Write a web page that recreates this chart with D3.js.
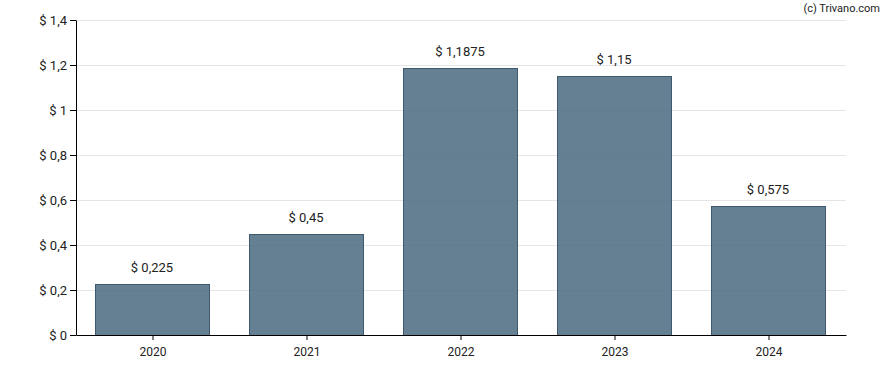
<!DOCTYPE html>
<meta charset="utf-8">
<style>
    body { margin: 0; background: #fff; }
    text { font-family: Roboto, "Liberation Sans", sans-serif; fill: #222; }
    .grid line { stroke: #e6e6e6; stroke-width: 1; }
    .axis path, .axis line { stroke: #000; }
</style>
<svg width="888" height="370"></svg>
<script src="https://d3js.org/d3.v7.min.js"></script>
<script>
    // data
    const years = ["2020", "2021", "2022", "2023", "2024"];
    const dividends = [0.225, 0.45, 1.1875, 1.15, 0.575];
    const yTicks = [0, 0.2, 0.4, 0.6, 0.8, 1, 1.2, 1.4];

    let svg = d3.select("svg");
    const margin = {top: 20, right: 42, bottom: 35, left: 76};
    const width = 888 - margin.left - margin.right,
        height = 370 - margin.top - margin.bottom;

    const fmt = v => "$ " + String(v).replace(".", ",");

    let x = d3.scaleBand().domain(years).range([0, width]).paddingInner(0.26).paddingOuter(0.13);
    let y = d3.scaleLinear().domain([0, 1.4]).range([height, 0]);

    let g = svg.append("g").attr("transform", "translate(" + margin.left + "," + margin.top + ")");

    // gridlines
    g.append("g").attr("class", "grid")
        .selectAll("line").data(yTicks.slice(1)).enter().append("line")
        .attr("x1", 0).attr("x2", width)
        .attr("y1", d => Math.round(y(d)) + 0.5).attr("y2", d => Math.round(y(d)) + 0.5);

    // bars (semi-transparent, gridlines show through a little)
    g.selectAll("rect.bar").data(years).enter().append("rect")
        .attr("class", "bar")
        .attr("x", d => Math.floor(x(d)) - 0.5)
        .attr("y", (d, i) => Math.round(y(dividends[i])) + 0.5)
        .attr("width", Math.round(x.bandwidth()))
        .attr("height", (d, i) => Math.round(height - y(dividends[i])))
        .attr("fill", "#4a6a80")
        .attr("fill-opacity", 0.85)
        .attr("stroke", "#3f5a6e")
        .attr("stroke-width", 1);

    // value labels
    g.selectAll("text.lbl").data(years).enter().append("text")
        .attr("class", "lbl")
        .attr("x", d => x(d) + x.bandwidth() / 2 - 1)
        .attr("y", (d, i) => y(dividends[i]) - 12)
        .attr("text-anchor", "middle")
        .style("font-size", "13px")
        .text((d, i) => fmt(dividends[i]));

    // axes
    let yAxis = g.append("g").attr("class", "axis")
        .call(d3.axisLeft(y).tickValues(yTicks).tickSize(6).tickSizeOuter(0).tickFormat(fmt));
    yAxis.selectAll("text").style("font-size", "13px").attr("fill", "#222");

    let xAxis = g.append("g").attr("class", "axis")
        .attr("transform", "translate(0," + height + ")")
        .call(d3.axisBottom(x).tickSize(5).tickSizeOuter(0));
    xAxis.selectAll("text").style("font-size", "12px").attr("fill", "#222").attr("dy", "1.1em");

    svg.append("text")
        .attr("x", 880).attr("y", 12)
        .attr("text-anchor", "end")
        .style("font-size", "11px")
        .text("(c) Trivano.com");
</script>
<body>
</body>
